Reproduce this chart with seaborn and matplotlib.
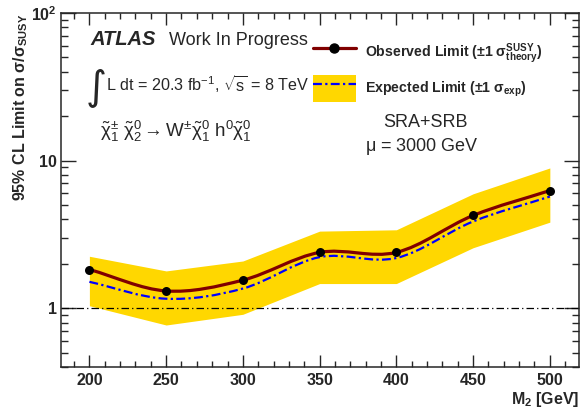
import numpy as np
import matplotlib
matplotlib.use("Agg")
import matplotlib.pyplot as plt
from matplotlib.path import Path
from matplotlib.patches import PathPatch, Patch
from matplotlib.lines import Line2D
import seaborn as sns

# Daten
m2 = [200, 250, 300, 350, 400, 450, 500]
observed = [1.83, 1.31, 1.55, 2.39, 2.39, 4.25, 6.27]
expected = [1.51, 1.16, 1.36, 2.22, 2.19, 3.87, 5.71]
exp_up = [2.25, 1.79, 2.09, 3.33, 3.40, 5.96, 8.92]
exp_down = [1.04, 0.77, 0.91, 1.47, 1.47, 2.57, 3.83]

sns.set_style("ticks")
plt.rcParams['font.family'] = ['Liberation Sans', 'DejaVu Sans']
plt.rcParams['mathtext.fontset'] = 'custom'
plt.rcParams['mathtext.rm'] = 'Liberation Sans'
plt.rcParams['mathtext.it'] = 'Liberation Sans:italic'
plt.rcParams['mathtext.bf'] = 'Liberation Sans:bold'
plt.rcParams['mathtext.default'] = 'regular'

OBS_COL = '#800000'
BAND_COL = '#ffd700'
EXP_COL = '#0000ff'
EXP_LS = (0, (4, 1.5, 1, 1.5))


# glatte Kurve wie ROOT "C": Bezier-Pfad durch die Punkte (log-y)
def smooth_path(x, y):
    lx = np.asarray(x, float)
    ly = np.log10(y)
    m = np.gradient(ly, lx)
    verts = [(lx[0], ly[0])]
    codes = [Path.MOVETO]
    for i in range(len(lx) - 1):
        h = lx[i + 1] - lx[i]
        verts.append((lx[i] + h / 3, ly[i] + m[i] * h / 3))
        verts.append((lx[i + 1] - h / 3, ly[i + 1] - m[i + 1] * h / 3))
        verts.append((lx[i + 1], ly[i + 1]))
        codes += [Path.CURVE4] * 3
    verts = np.array(verts)
    verts[:, 1] = 10 ** verts[:, 1]
    return Path(verts, codes)


fig = plt.figure(figsize=(5.84, 4.09), dpi=100)
ax = fig.add_axes([61 / 584, 1 - 367 / 409, 518 / 584, 354 / 409])
ax.set_yscale('log')

ax.fill_between(m2, exp_down, exp_up, color=BAND_COL, lw=0, zorder=1)
ax.axhline(1, color='black', lw=0.9, ls=(0, (6, 2.5, 1, 2.5)), zorder=2)
ax.add_patch(PathPatch(smooth_path(m2, expected), fc='none', ec=EXP_COL,
                       lw=1.6, ls=EXP_LS, zorder=3))
ax.add_patch(PathPatch(smooth_path(m2, observed), fc='none', ec=OBS_COL,
                       lw=2.3, zorder=4))
sns.scatterplot(x=m2, y=observed, color='black', s=42, edgecolor='black',
                linewidth=0, zorder=5, ax=ax)

ax.set_xlim(181.5, 519)
ax.set_ylim(0.4, 100)
ax.set_xticks(m2)
ax.set_xticklabels([str(v) for v in m2], fontweight='bold', fontsize=11.5)
ax.set_xticks(np.arange(190, 520, 10), minor=True)
ax.set_yticks([1, 10, 100])
ax.set_yticklabels(['1', '10', r'$\mathbf{10^{2}}$'], fontweight='bold', fontsize=11.5)
ax.tick_params(which='both', direction='in', top=True, right=True, width=1)
ax.tick_params(axis='x', which='major', length=8.5, pad=4)
ax.tick_params(axis='x', which='minor', length=4.3)
ax.tick_params(axis='y', which='major', length=11, pad=3)
ax.tick_params(axis='y', which='minor', length=5.3)
for s in ax.spines.values():
    s.set_linewidth(1.1)

ax.set_xlabel(r'M$_{\mathbf{2}}$ [GeV]', fontweight='bold', fontsize=11.5, loc='right', labelpad=2)
ax.set_ylabel(r'95% CL Limit on $\sigma/\sigma_{\mathbf{SUSY}}$', fontweight='bold',
              fontsize=11.5, loc='top', labelpad=1)


def fx(px):
    return px / 584


def fy(py):
    return 1 - py / 409


fig.text(fx(90), fy(45), 'ATLAS', fontsize=14.5, fontweight='bold', fontstyle='italic')
fig.text(fx(169), fy(45), 'Work In Progress', fontsize=13)
fig.text(fx(86), fy(98), '\u222b', fontsize=29, family='DejaVu Sans', va='baseline')
fig.text(fx(106), fy(91), r'L dt = 20.3 fb$^{-1}$, $\sqrt{s}$ = 8 TeV', fontsize=11.6)
fig.text(fx(100), fy(137),
         r'$\tilde{\chi}^{\pm}_{1}\ \tilde{\chi}^{0}_{2}\rightarrow W^{\pm}\tilde{\chi}^{0}_{1}\ h^{0}\tilde{\chi}^{0}_{1}$',
         fontsize=13.5)
fig.text(fx(383), fy(127), 'SRA+SRB', fontsize=13)
fig.text(fx(365), fy(151), r'$\mu$ = 3000 GeV', fontsize=13)

handles = [
    Line2D([], [], color=OBS_COL, lw=2.3, marker='o', mfc='black', mec='black', ms=6.5),
    (Patch(facecolor=BAND_COL, edgecolor='none'),
     Line2D([], [], color=EXP_COL, lw=1.6, ls=EXP_LS)),
]
labels = [r'Observed Limit ($\pm$1 $\sigma^{\mathbf{SUSY}}_{\mathbf{theory}}$)',
          r'Expected Limit ($\pm$1 $\sigma_{\mathbf{exp}}$)']
fig.legend(handles, labels, loc='upper left', bbox_to_anchor=(fx(313), fy(39)),
           frameon=False, prop={'weight': 'bold', 'size': 10.2},
           handlelength=3.0, handleheight=2.5, handletextpad=0.65,
           labelspacing=0.68, borderpad=0, borderaxespad=0, numpoints=1)

fig.savefig('out.png', dpi=100)
